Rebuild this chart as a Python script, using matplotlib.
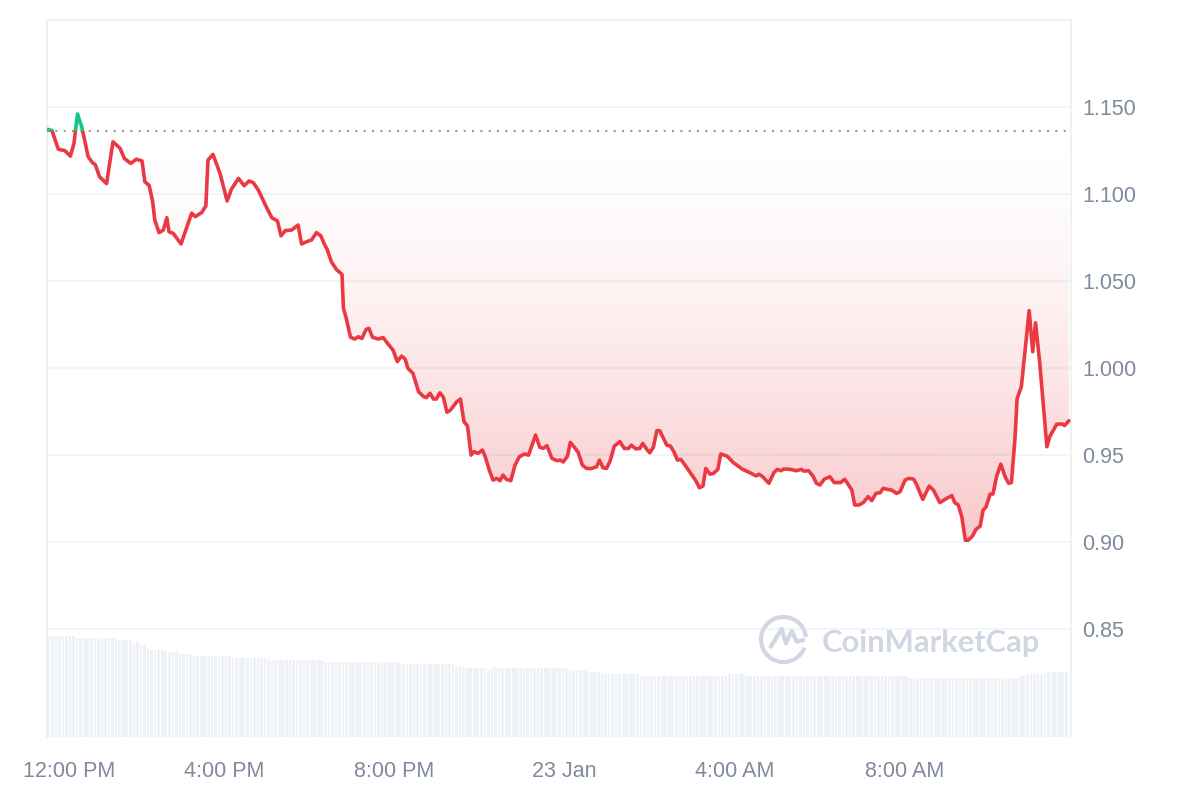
import numpy as np
import matplotlib
matplotlib.use('Agg')
import matplotlib.pyplot as plt
import matplotlib.transforms as mtransforms
from matplotlib.patches import PathPatch, Rectangle, Arc
from matplotlib.path import Path
from matplotlib.lines import Line2D
from matplotlib.colors import to_rgb

plt.rcParams['font.family'] = ['Liberation Sans', 'DejaVu Sans']

# minutes since 11:50 AM, 22 Jan
minutes = [1, 7, 16, 25, 33, 38, 43, 49, 58, 64, 68, 74, 84, 93, 103, 109, 118, 126, 134, 138,
           144, 149, 152, 158, 164, 169, 172, 178, 189, 204, 209, 218, 224, 227, 234, 244, 254,
           260, 270, 278, 285, 291, 298, 309, 317, 325, 330, 336, 345, 354, 359, 366, 373, 380,
           386, 391, 395, 401, 408, 416, 418, 422, 428, 434, 439, 444, 450, 454, 459, 467, 474,
           481, 488, 494, 500, 505, 509, 516, 524, 531, 535, 540, 545, 549, 554, 559, 564, 569,
           578, 583, 588, 593, 598, 602, 608, 614, 618, 624, 629, 634, 639, 643, 648, 654, 660,
           666, 673, 679, 689, 695, 700, 705, 712, 719, 724, 728, 734, 738, 743, 749, 755, 761,
           768, 775, 779, 784, 789, 794, 800, 808, 814, 820, 824, 830, 836, 840, 846, 850, 855,
           860, 864, 874, 879, 884, 889, 894, 902, 911, 915, 920, 925, 929, 935, 940, 946, 950,
           959, 968, 981, 991, 1000, 1004, 1009, 1018, 1025, 1030, 1035, 1039, 1048, 1057, 1064,
           1067, 1074, 1080, 1085, 1090, 1096, 1104, 1110, 1119, 1125, 1135, 1139, 1145, 1151,
           1158, 1163, 1169, 1175, 1179, 1185, 1191, 1198, 1203, 1210, 1215, 1222, 1226, 1235,
           1244, 1250, 1259, 1269, 1276, 1280, 1285, 1290, 1295, 1299, 1305, 1310, 1316, 1320,
           1324, 1330, 1334, 1339, 1345, 1351, 1356, 1360, 1365, 1368, 1374, 1385, 1390, 1394,
           1400, 1410, 1414, 1424, 1432, 1435, 1441]
price = [1.1372, 1.1365, 1.1257, 1.1250, 1.1218, 1.1290, 1.1460, 1.1387, 1.1215, 1.1180, 1.1170,
         1.1100, 1.1060, 1.1300, 1.1263, 1.1205, 1.1176, 1.1200, 1.1190, 1.1070, 1.1050, 1.0956,
         1.0850, 1.0778, 1.0793, 1.0864, 1.0783, 1.0774, 1.0713, 1.0890, 1.0870, 1.0893, 1.0931,
         1.1195, 1.1228, 1.1118, 1.0960, 1.1027, 1.1090, 1.1048, 1.1075, 1.1065, 1.1023, 1.0928,
         1.0864, 1.0845, 1.0760, 1.0790, 1.0793, 1.0822, 1.0713, 1.0726, 1.0736, 1.0778, 1.0760,
         1.0713, 1.0682, 1.0611, 1.0567, 1.0538, 1.0343, 1.0286, 1.0177, 1.0167, 1.0180, 1.0170,
         1.0222, 1.0228, 1.0177, 1.0167, 1.0175, 1.0138, 1.0103, 1.0037, 1.0069, 1.0052, 0.9998,
         0.9970, 0.9864, 0.9836, 0.9830, 0.9855, 0.9822, 0.9822, 0.9858, 0.9832, 0.9746, 0.9759,
         0.9807, 0.9822, 0.9692, 0.9667, 0.9500, 0.9519, 0.9510, 0.9529, 0.9490, 0.9410, 0.9356,
         0.9366, 0.9353, 0.9385, 0.9360, 0.9353, 0.9442, 0.9490, 0.9506, 0.9500, 0.9615, 0.9544,
         0.9539, 0.9554, 0.9481, 0.9468, 0.9471, 0.9460, 0.9494, 0.9573, 0.9548, 0.9516, 0.9442,
         0.9423, 0.9423, 0.9433, 0.9471, 0.9427, 0.9423, 0.9465, 0.9552, 0.9577, 0.9538, 0.9538,
         0.9557, 0.9536, 0.9538, 0.9567, 0.9532, 0.9513, 0.9544, 0.9640, 0.9640, 0.9557, 0.9552,
         0.9519, 0.9471, 0.9475, 0.9429, 0.9375, 0.9352, 0.9312, 0.9322, 0.9423, 0.9390, 0.9395,
         0.9418, 0.9506, 0.9494, 0.9456, 0.9418, 0.9399, 0.9380, 0.9390, 0.9376, 0.9338, 0.9399,
         0.9418, 0.9410, 0.9420, 0.9418, 0.9410, 0.9418, 0.9408, 0.9410, 0.9380, 0.9338, 0.9328,
         0.9361, 0.9376, 0.9342, 0.9342, 0.9361, 0.9299, 0.9213, 0.9213, 0.9227, 0.9261, 0.9238,
         0.9280, 0.9284, 0.9309, 0.9303, 0.9299, 0.9280, 0.9290, 0.9356, 0.9366, 0.9362, 0.9333,
         0.9245, 0.9322, 0.9299, 0.9227, 0.9252, 0.9267, 0.9227, 0.9213, 0.9146, 0.9011, 0.9011,
         0.9034, 0.9073, 0.9092, 0.9184, 0.9200, 0.9276, 0.9276, 0.9376, 0.9448, 0.9376, 0.9338,
         0.9342, 0.9596, 0.9825, 0.9893, 1.0330, 1.0094, 1.0260, 1.0027, 0.9548, 0.9606, 0.9678,
         0.9678, 0.9670, 0.9697]
open_price = 1.1365

# 5-minute volume bars, read as runs of equal height (arbitrary units)
vol_levels = [10.1, 9.9, 9.7, 9.5, 9.2, 8.8, 8.7, 8.5, 8.3, 8.1, 7.9, 7.7, 7.5, 7.3,
              7.0, 6.9, 6.7, 6.9, 6.7, 6.5, 6.3, 6.1, 6.3, 6.1, 5.9, 6.1, 6.3, 6.5]
vol_counts = [8, 12, 4, 2, 2, 1, 4, 4, 4, 11, 10, 16, 22, 15,
              2, 7, 1, 22, 5, 4, 11, 25, 5, 46, 31, 2, 6, 6]
volume = np.repeat(vol_levels, vol_counts)
vol_minutes = np.arange(len(volume)) * 5 + 2.5

tick_minutes = [10, 250, 490, 730, 970, 1210]
tick_labels = ['12:00 PM', '4:00 PM', '8:00 PM', '23 Jan', '4:00 AM', '8:00 AM']
ytick_vals = [0.85, 0.90, 0.95, 1.00, 1.05, 1.10, 1.15]
ytick_labels = ['0.85', '0.90', '0.95', '1.000', '1.050', '1.100', '1.150']

red = '#ea3943'
green = '#16c784'
gray_txt = '#808a9d'
grid_c = '#eff2f5'
x_end = 1444

fig = plt.figure(figsize=(12, 8), dpi=100)
rect = [47 / 1200, 1 - 737 / 800, 1024 / 1200, 717 / 800]

# volume underneath
ax_v = fig.add_axes(rect)
ax_v.bar(vol_minutes, volume, width=3.8, color='#eef1f5', linewidth=0)
ax_v.set_xlim(0, x_end)
ax_v.set_ylim(0, 71.7)
ax_v.axis('off')

ax = fig.add_axes(rect)
ax.set_facecolor('none')

t = np.array(minutes, dtype=float)
p = np.array(price)

# gradient fill between open price and line
pmin = p.min()
grad = np.zeros((256, 1, 4))
grad[..., :3] = to_rgb(red)
s = np.linspace(0, 1, 256)
grad[:, 0, 3] = 0.28 * (1 - s) ** 1.5
low = np.minimum(p, open_price)
verts = list(zip(t, low)) + list(zip(t[::-1], [open_price] * len(t)))
clip = PathPatch(Path(verts + [verts[0]]), transform=ax.transData,
                 facecolor='none', edgecolor='none')
im = ax.imshow(grad, extent=(t[0], t[-1], pmin, open_price), origin='lower',
               aspect='auto', interpolation='bilinear', zorder=1)
im.set_clip_path(clip)
ax.fill_between(t, open_price, p, where=p > open_price, interpolate=True,
                color=green, alpha=0.12, linewidth=0, zorder=1)

ax.set_xlim(0, x_end)
ax.set_ylim(0.788, 1.2)

ax.axhline(open_price, color='#9a9a9a', lw=1.5, ls=(0, (1, 3)), zorder=3)

ln_r, = ax.plot(t, p, color=red, lw=2.6, solid_joinstyle='round',
                solid_capstyle='round', zorder=4)
ln_r.set_clip_path(Rectangle((0, 0.7), x_end, open_price - 0.7, transform=ax.transData))
ln_g, = ax.plot(t, p, color=green, lw=2.6, solid_joinstyle='round',
                solid_capstyle='round', zorder=4)
ln_g.set_clip_path(Rectangle((0, open_price), x_end, 0.5, transform=ax.transData))

# axes styling
ax.yaxis.tick_right()
ax.set_yticks(ytick_vals)
ax.set_yticklabels(ytick_labels)
ax.tick_params(axis='y', length=0, pad=8, labelsize=15.5, labelcolor=gray_txt)
ax.set_xticks([])
ax.grid(axis='y', color=grid_c, lw=1.1)
ax.set_axisbelow(True)
for side in ['left', 'right', 'top']:
    ax.spines[side].set_color(grid_c)
    ax.spines[side].set_linewidth(1.5)
ax.spines['bottom'].set_visible(False)

for i, (m, lab) in enumerate(zip(tick_minutes, tick_labels)):
    tr = ax.get_xaxis_transform()
    if i == 0:
        tr = tr + mtransforms.ScaledTranslation(0.15, 0, fig.dpi_scale_trans)
    ax.text(m, -40 / 717, lab, transform=tr, ha='center', va='baseline',
            fontsize=15.5, color=gray_txt)

# watermark
wm = '#d0d6e2'
W, H = 1200, 800
cx, cy, r = 783.5, 800 - 639.5, 22.5
fig.add_artist(Arc((cx / W, cy / H), 2 * r / W, 2 * r / H, theta1=10, theta2=330,
                   transform=fig.transFigure, color=wm, lw=3))
wave_x = [770.7, 781.7, 786.0, 791.7, 796.7, 803.3]
wave_y = [646.7, 629.0, 643.3, 631.0, 641.7, 640.0]
fig.add_artist(Line2D([x / W for x in wave_x], [(H - y) / H for y in wave_y],
                      transform=fig.transFigure, color=wm, lw=3,
                      solid_joinstyle='round', solid_capstyle='round'))
fig.text(822 / W, (H - 652) / H, 'CoinMarketCap', family=['Lato', 'DejaVu Sans'],
         weight='bold', fontsize=22.2, color=wm, ha='left', va='baseline')

fig.savefig('out.png', dpi=100)
